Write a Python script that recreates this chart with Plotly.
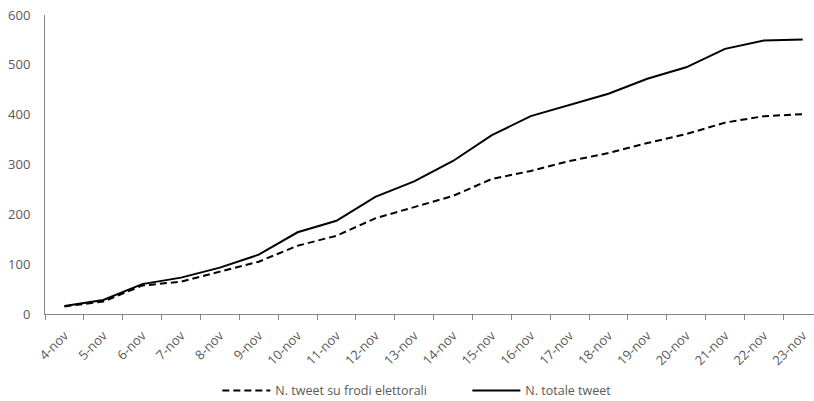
import plotly.graph_objects as go

categories = ["4-nov", "5-nov", "6-nov", "7-nov", "8-nov", "9-nov", "10-nov", "11-nov",
              "12-nov", "13-nov", "14-nov", "15-nov", "16-nov", "17-nov", "18-nov",
              "19-nov", "20-nov", "21-nov", "22-nov", "23-nov"]
frodi = [15, 25, 57, 65, 85, 105, 137, 157, 192, 214, 237, 271, 287, 307, 323, 343, 361, 384, 397, 401]
totale = [16, 28, 60, 73, 93, 119, 164, 187, 235, 266, 307, 359, 397, 420, 442, 472, 495, 532, 549, 551]
y_ticks = [0, 100, 200, 300, 400, 500, 600]

fig = go.Figure()
fig.add_trace(go.Scatter(x=categories, y=frodi, mode="lines", name="N. tweet su frodi elettorali",
                         line=dict(color="black", width=2, dash="7px,4px")))
fig.add_trace(go.Scatter(x=categories, y=totale, mode="lines", name="N. totale tweet",
                         line=dict(color="black", width=2)))

font_color = "#595959"
fig.update_layout(
    width=814, height=401,
    margin=dict(l=45, r=0, t=15, b=87),
    paper_bgcolor="white", plot_bgcolor="white",
    font=dict(family="Open Sans", size=13, color=font_color),
    showlegend=True,
    legend=dict(orientation="h", xref="container", yref="container",
                x=0.267, xanchor="left", y=0.025, yanchor="middle",
                font=dict(size=12.5, color=font_color), traceorder="normal",
                entrywidth=187, itemwidth=48),
    xaxis=dict(type="category", range=[-0.5, 19.29], tickangle=-45, tickson="boundaries",
               ticks="outside", ticklen=5, tickcolor="#868686", showline=True,
               linecolor="#868686", linewidth=1, showgrid=False, zeroline=False,
               ticklabelstandoff=8, tickfont=dict(size=13, color=font_color)),
    yaxis=dict(range=[0, 600], tickvals=y_ticks, showline=True, linecolor="#868686",
               linewidth=1, showgrid=False, zeroline=False, ticks="", ticklabelstandoff=11,
               tickfont=dict(size=13, color=font_color)),
)

fig.write_html("out.html", config={"displayModeBar": False},
               post_script="document.body.style.margin='0px';")
